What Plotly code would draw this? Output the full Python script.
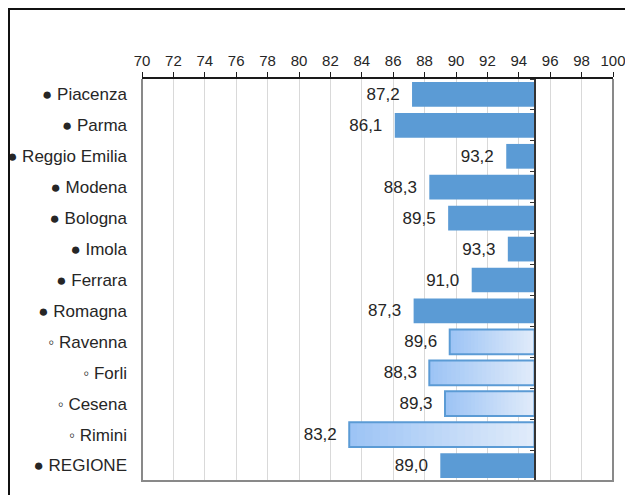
import plotly.graph_objects as go

areas = ['● Piacenza', '● Parma', '● Reggio Emilia', '● Modena', '● Bologna', '● Imola',
         '● Ferrara', '● Romagna', '◦ Ravenna', '◦ Forli', '◦ Cesena', '◦ Rimini', '● REGIONE']
values = [87.2, 86.1, 93.2, 88.3, 89.5, 93.3, 91.0, 87.3, 89.6, 88.3, 89.3, 83.2, 89.0]
base = 95
x_ticks = list(range(70, 101, 2))

font = 'Liberation Sans, Arial, sans-serif'
txt = '#262626'
blue = '#5b9bd5'
is_sub = [a.startswith('◦') for a in areas]
labels = [f'{v:.1f}'.replace('.', ',') + '\u00a0\u00a0' for v in values]

fig = go.Figure()

# main areas: solid bars
fig.add_bar(y=areas, x=[None if s else v - base for v, s in zip(values, is_sub)], base=base,
            orientation='h', width=0.8, marker=dict(color=blue, line=dict(width=0)),
            text=[None if s else t for t, s in zip(labels, is_sub)], textposition='outside',
            textfont=dict(family=font, size=17, color=txt), cliponaxis=False, hoverinfo='skip')

# sub areas: stepped gradient, dark on the left to light near the baseline
steps = 24
c0, c1 = (157, 196, 245), (224, 235, 250)
for k in range(steps):
    f = (steps - k) / steps
    t = k / (steps - 1)
    col = 'rgb(%d,%d,%d)' % tuple(round(a + (b - a) * t) for a, b in zip(c0, c1))
    fig.add_bar(y=areas, x=[(v - base) * f if s else None for v, s in zip(values, is_sub)], base=base,
                orientation='h', width=0.8, marker=dict(color=col, line=dict(width=0)),
                hoverinfo='skip')
fig.add_bar(y=areas, x=[v - base if s else None for v, s in zip(values, is_sub)], base=base,
            orientation='h', width=0.8, marker=dict(color='rgba(0,0,0,0)', line=dict(color=blue, width=2)),
            text=[t if s else None for t, s in zip(labels, is_sub)], textposition='outside',
            textfont=dict(family=font, size=17, color=txt), cliponaxis=False, hoverinfo='skip')

# invisible trace carrying the baseline axis
fig.add_scatter(y=areas, x=[base] * len(areas), yaxis='y2', mode='markers',
                marker=dict(opacity=0), hoverinfo='skip', showlegend=False)

W, H = 625, 487
L, T, R, B = 134, 71, 20, 14
pw, ph = W - L - R, H - T - B
yr = [len(areas) - 0.5, -0.5]
fig.update_layout(
    width=W, height=H, barmode='overlay', showlegend=False,
    margin=dict(l=L, r=R, t=T, b=B, autoexpand=False),
    paper_bgcolor='white', plot_bgcolor='white',
    font=dict(family=font, color=txt),
    xaxis=dict(side='top', range=[70, 100], tickvals=x_ticks, showgrid=True, gridcolor='#d9d9d9',
               gridwidth=1, zeroline=False, showline=True, linecolor='#1a1a1a', linewidth=1.5,
               ticks='outside', ticklen=5, tickcolor='#1a1a1a', tickfont=dict(size=15, color=txt),
               ticklabelstandoff=0, automargin=False),
    yaxis=dict(type='category', categoryarray=areas, range=yr, showgrid=False, ticks='',
               tickfont=dict(size=17, color=txt), ticklabelstandoff=14, showline=False,
               automargin=False),
    yaxis2=dict(type='category', categoryarray=areas, range=yr, overlaying='y', anchor='free',
                position=(base - 70) / 30, side='left', showline=True, linecolor='#333333', linewidth=2,
                ticks='outside', ticklen=4, tickcolor='#333333', tickson='boundaries',
                showticklabels=False, showgrid=False, automargin=False),
    shapes=[
        dict(type='path', xref='paper', yref='paper', path='M 0 1 L 0 0 L 1 0 L 1 1',
             line=dict(color='#898989', width=2)),
        dict(type='rect', xref='paper', yref='paper', x0=(1 - L) / pw, x1=1.2,
             y0=-0.2, y1=1 + (T - 1) / ph, line=dict(color='#111111', width=2)),
    ],
)

fig.write_html('out.html')
